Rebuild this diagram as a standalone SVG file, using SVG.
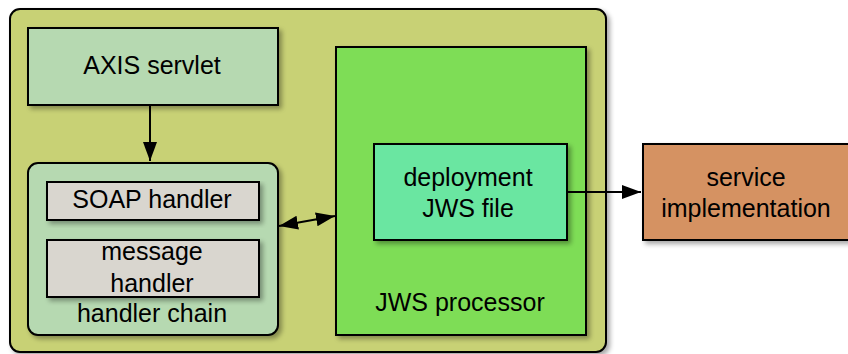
<svg xmlns="http://www.w3.org/2000/svg" width="848" height="354" viewBox="0 0 848 354">
<defs>
<filter id="sh" x="-10%" y="-10%" width="130%" height="130%">
<feGaussianBlur in="SourceAlpha" stdDeviation="2.5"/>
<feOffset dx="3" dy="3" result="b"/>
<feComponentTransfer><feFuncA type="linear" slope="0.35"/></feComponentTransfer>
<feMerge><feMergeNode/><feMergeNode in="SourceGraphic"/></feMerge>
</filter>
<marker id="ah" viewBox="0 0 19 14" refX="19" refY="7" markerWidth="19" markerHeight="14" markerUnits="userSpaceOnUse" orient="auto-start-reverse">
<path d="M0,0 L19,7 L0,14 Z" fill="#000"/>
</marker>
</defs>
<style>
.b{stroke:#000;stroke-width:2;filter:url(#sh)}
text{font-family:"Liberation Sans",Arial,sans-serif;font-size:25px;fill:#000;text-anchor:middle}
.c{stroke:#000;stroke-width:2;fill:none}
</style>
<g id="container"><rect class="b" x="10" y="9" width="596" height="343" rx="10" fill="#c8d175"/></g>
<g id="axis-servlet"><rect class="b" x="28" y="28" width="250" height="77" fill="#b6d9b1"/><text x="152" y="74">AXIS servlet</text></g>
<g id="handler-chain"><rect class="b" x="28" y="163" width="250" height="172" rx="10" fill="#b6d9b1"/><text x="152" y="322">handler chain</text></g>
<g id="soap-handler"><rect class="b" x="47" y="182" width="212" height="38" fill="#d9d6cf"/><text x="152" y="208">SOAP handler</text></g>
<g id="message-handler"><rect class="b" x="47" y="240" width="212" height="57" fill="#d9d6cf"/><text x="152" y="260">message</text><text x="152" y="292">handler</text></g>
<g id="jws-processor"><rect class="b" x="336" y="47" width="250" height="288" fill="#7edd56"/><text x="460" y="311">JWS processor</text></g>
<g id="deployment-jws"><rect class="b" x="374" y="144" width="193" height="96" fill="#6ae6a1"/><text x="468" y="186">deployment</text><text x="468" y="217">JWS file</text></g>
<g id="service-impl"><rect class="b" x="643" y="144" width="210" height="96" fill="#d59262"/><text x="746" y="186">service</text><text x="746" y="217">implementation</text></g>
<g id="connectors">
<path class="c" d="M150,106 L150,161" marker-end="url(#ah)"/>
<path class="c" d="M279,226 L335,216" marker-start="url(#ah)" marker-end="url(#ah)"/>
<path class="c" d="M568,192 L641,192" marker-end="url(#ah)"/>
</g>
</svg>
